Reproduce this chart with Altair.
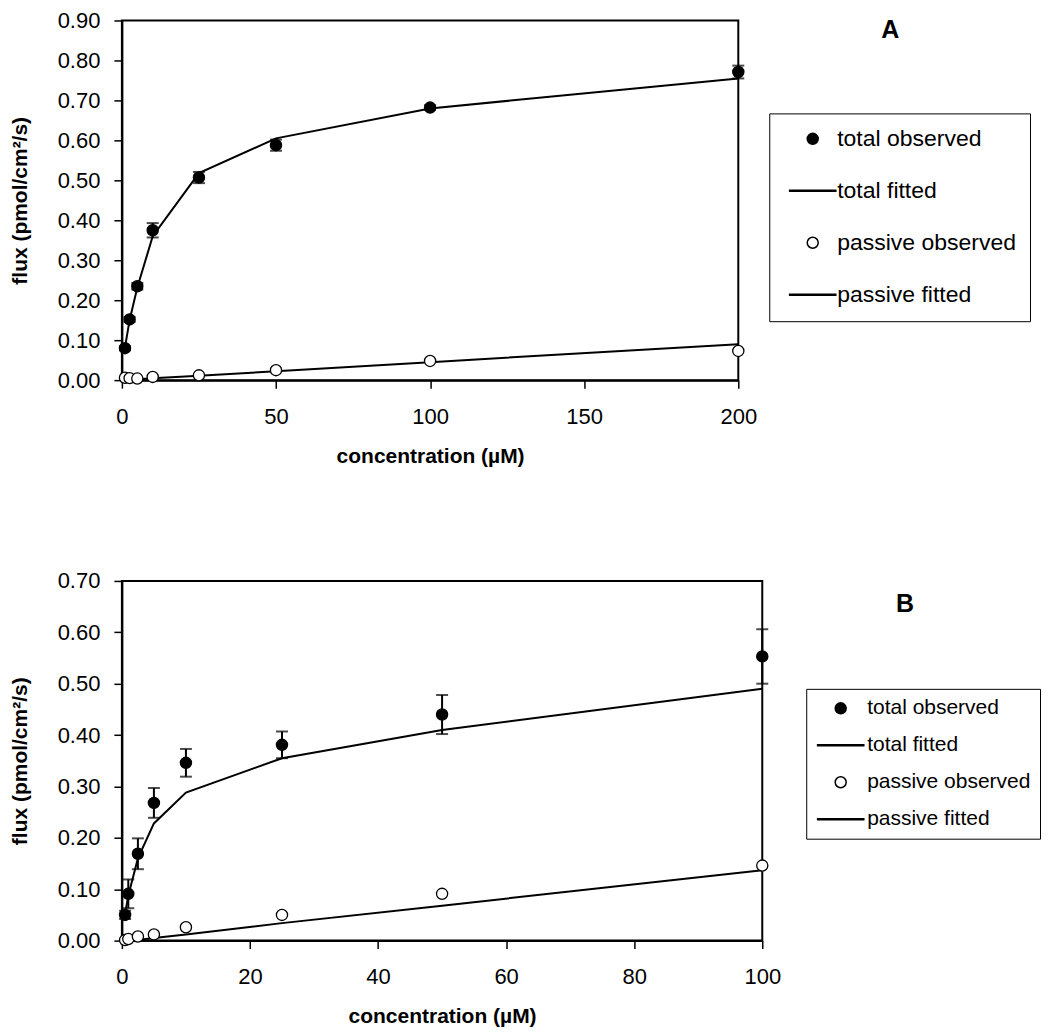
import altair as alt
import pandas as pd

FONT = "Liberation Sans"
SERIES = ["total observed", "total fitted", "passive observed", "passive fitted"]
LINE_PATH = "M-4.2,-0.1H4.2V0.1H-4.2Z"

# ---- Panel A data ----
A_conc = [1, 2.5, 5, 10, 25, 50, 100, 200]
A_total_obs = [0.080, 0.152, 0.235, 0.375, 0.507, 0.588, 0.682, 0.771]
A_total_err = [0.005, 0.006, 0.008, 0.018, 0.014, 0.014, 0.006, 0.016]
A_total_fit = [0.082, 0.150, 0.232, 0.360, 0.518, 0.605, 0.680, 0.755]
A_passive_obs = [0.006, 0.005, 0.004, 0.008, 0.012, 0.025, 0.048, 0.073]
A_passive_fit = [0.0005, 0.001, 0.002, 0.0045, 0.011, 0.022, 0.045, 0.090]
A_xticks = [0, 50, 100, 150, 200]
A_yticks = [0.0, 0.1, 0.2, 0.3, 0.4, 0.5, 0.6, 0.7, 0.8, 0.9]

# ---- Panel B data ----
B_conc = [0.5, 1, 2.5, 5, 10, 25, 50, 100]
B_total_obs = [0.050, 0.091, 0.169, 0.268, 0.346, 0.381, 0.440, 0.553]
B_total_err = [0.008, 0.028, 0.030, 0.029, 0.027, 0.026, 0.038, 0.053]
B_total_fit = [0.052, 0.088, 0.160, 0.228, 0.288, 0.355, 0.410, 0.490]
B_passive_obs = [0.001, 0.003, 0.008, 0.012, 0.026, 0.050, 0.091, 0.146]
B_passive_fit = [0.0, 0.0, 0.001, 0.005, 0.012, 0.034, 0.068, 0.137]
B_xticks = [0, 20, 40, 60, 80, 100]
B_yticks = [0.0, 0.1, 0.2, 0.3, 0.4, 0.5, 0.6, 0.7]


def panel(conc, tot_obs, tot_err, tot_fit, pas_obs, pas_fit, xticks, yticks,
          width, height, letter, letter_xy, leg):
    n = len(conc)
    obs = pd.DataFrame({
        "conc": conc + conc,
        "flux": tot_obs + pas_obs,
        "series": ["total observed"] * n + ["passive observed"] * n,
    })
    fit = pd.DataFrame({
        "conc": conc + conc,
        "flux": tot_fit + pas_fit,
        "series": ["total fitted"] * n + ["passive fitted"] * n,
    })
    err = pd.DataFrame({
        "conc": conc,
        "lo": [v - e for v, e in zip(tot_obs, tot_err)],
        "hi": [v + e for v, e in zip(tot_obs, tot_err)],
    })

    xscale = alt.Scale(domain=[xticks[0], xticks[-1]], nice=False, zero=True)
    yscale = alt.Scale(domain=[yticks[0], yticks[-1]], nice=False, zero=True)
    xaxis = alt.Axis(values=xticks, title="concentration (µM)", grid=False,
                     labelFont=FONT, labelFontSize=22, labelColor="black",
                     labelPadding=18, tickSize=8, tickWidth=1.5, tickColor="black",
                     domainColor="black", domainWidth=2,
                     titleFont=FONT, titleFontSize=21, titleFontWeight="bold",
                     titleColor="black", titlePadding=18, labelFlush=False)
    yaxis = alt.Axis(values=yticks, format=".2f", title="flux (pmol/cm²/s)", grid=False,
                     labelFont=FONT, labelFontSize=22, labelColor="black",
                     labelPadding=14, tickSize=8, tickWidth=1.5, tickColor="black",
                     domainColor="black", domainWidth=2,
                     titleFont=FONT, titleFontSize=21, titleFontWeight="bold",
                     titleColor="black", titlePadding=27, labelFlush=False)

    x = alt.X("conc:Q", scale=xscale, axis=xaxis)
    y = alt.Y("flux:Q", scale=yscale, axis=yaxis)

    lines = alt.Chart(fit).mark_line(color="black", strokeWidth=2).encode(
        x=x, y=y, detail="series:N", order="conc:Q")

    bars = alt.Chart(err).mark_errorbar(color="black", thickness=2, size=12, ticks=True).encode(
        x=alt.X("conc:Q", scale=xscale, axis=xaxis),
        y=alt.Y("lo:Q", scale=yscale, axis=yaxis),
        y2="hi:Q",
    )

    legend = alt.Legend(
        title=None, orient="none", legendX=leg["x"], legendY=leg["y"],
        labelFont=FONT, labelFontSize=leg["font"], labelColor="black",
        labelOffset=leg["labeloffset"], symbolOffset=leg["symoffset"],
        rowPadding=leg["rowpad"], padding=leg["pad"],
        symbolSize=121, strokeColor="black", fillColor="white", labelLimit=400,
    )
    pts = alt.Chart(obs).mark_point(filled=False, opacity=1, strokeWidth=1.3, size=125).encode(
        x=x, y=y,
        shape=alt.Shape("series:N", scale=alt.Scale(domain=SERIES, range=["circle", LINE_PATH, "circle", LINE_PATH]), legend=legend),
        fill=alt.Fill("series:N", scale=alt.Scale(domain=SERIES, range=["black", "black", "white", "black"]), legend=legend),
        stroke=alt.Stroke("series:N", scale=alt.Scale(domain=SERIES, range=["black", "black", "black", "black"]), legend=legend),
    )

    lab = alt.Chart(pd.DataFrame({"label": [letter]})).mark_text(
        font=FONT, fontSize=25, fontWeight="bold", color="black",
        align="center", baseline="middle").encode(
        x=alt.value(letter_xy[0]), y=alt.value(letter_xy[1]), text="label:N")

    return alt.layer(lines, bars, pts, lab).properties(width=width, height=height)


chartA = panel(A_conc, A_total_obs, A_total_err, A_total_fit, A_passive_obs, A_passive_fit,
               A_xticks, A_yticks, 617, 360, "A", (769, 10),
               {"x": 648, "y": 93, "font": 23, "labeloffset": 13, "symoffset": 18,
                "rowpad": 28, "pad": 14})
chartB = panel(B_conc, B_total_obs, B_total_err, B_total_fit, B_passive_obs, B_passive_fit,
               B_xticks, B_yticks, 641, 360, "B", (784, 23),
               {"x": 685, "y": 108, "font": 21, "labeloffset": 16, "symoffset": 15,
                "rowpad": 15, "pad": 9})

chart = alt.vconcat(chartA, chartB, spacing=102).resolve_scale(
    shape="independent", fill="independent", stroke="independent"
).properties(
    padding={"left": 0, "top": 0, "right": 0, "bottom": 0},
    background="white",
).configure_view(stroke="black", strokeWidth=2)

chart.save("out.html", embed_options={"renderer": "svg", "actions": False})
